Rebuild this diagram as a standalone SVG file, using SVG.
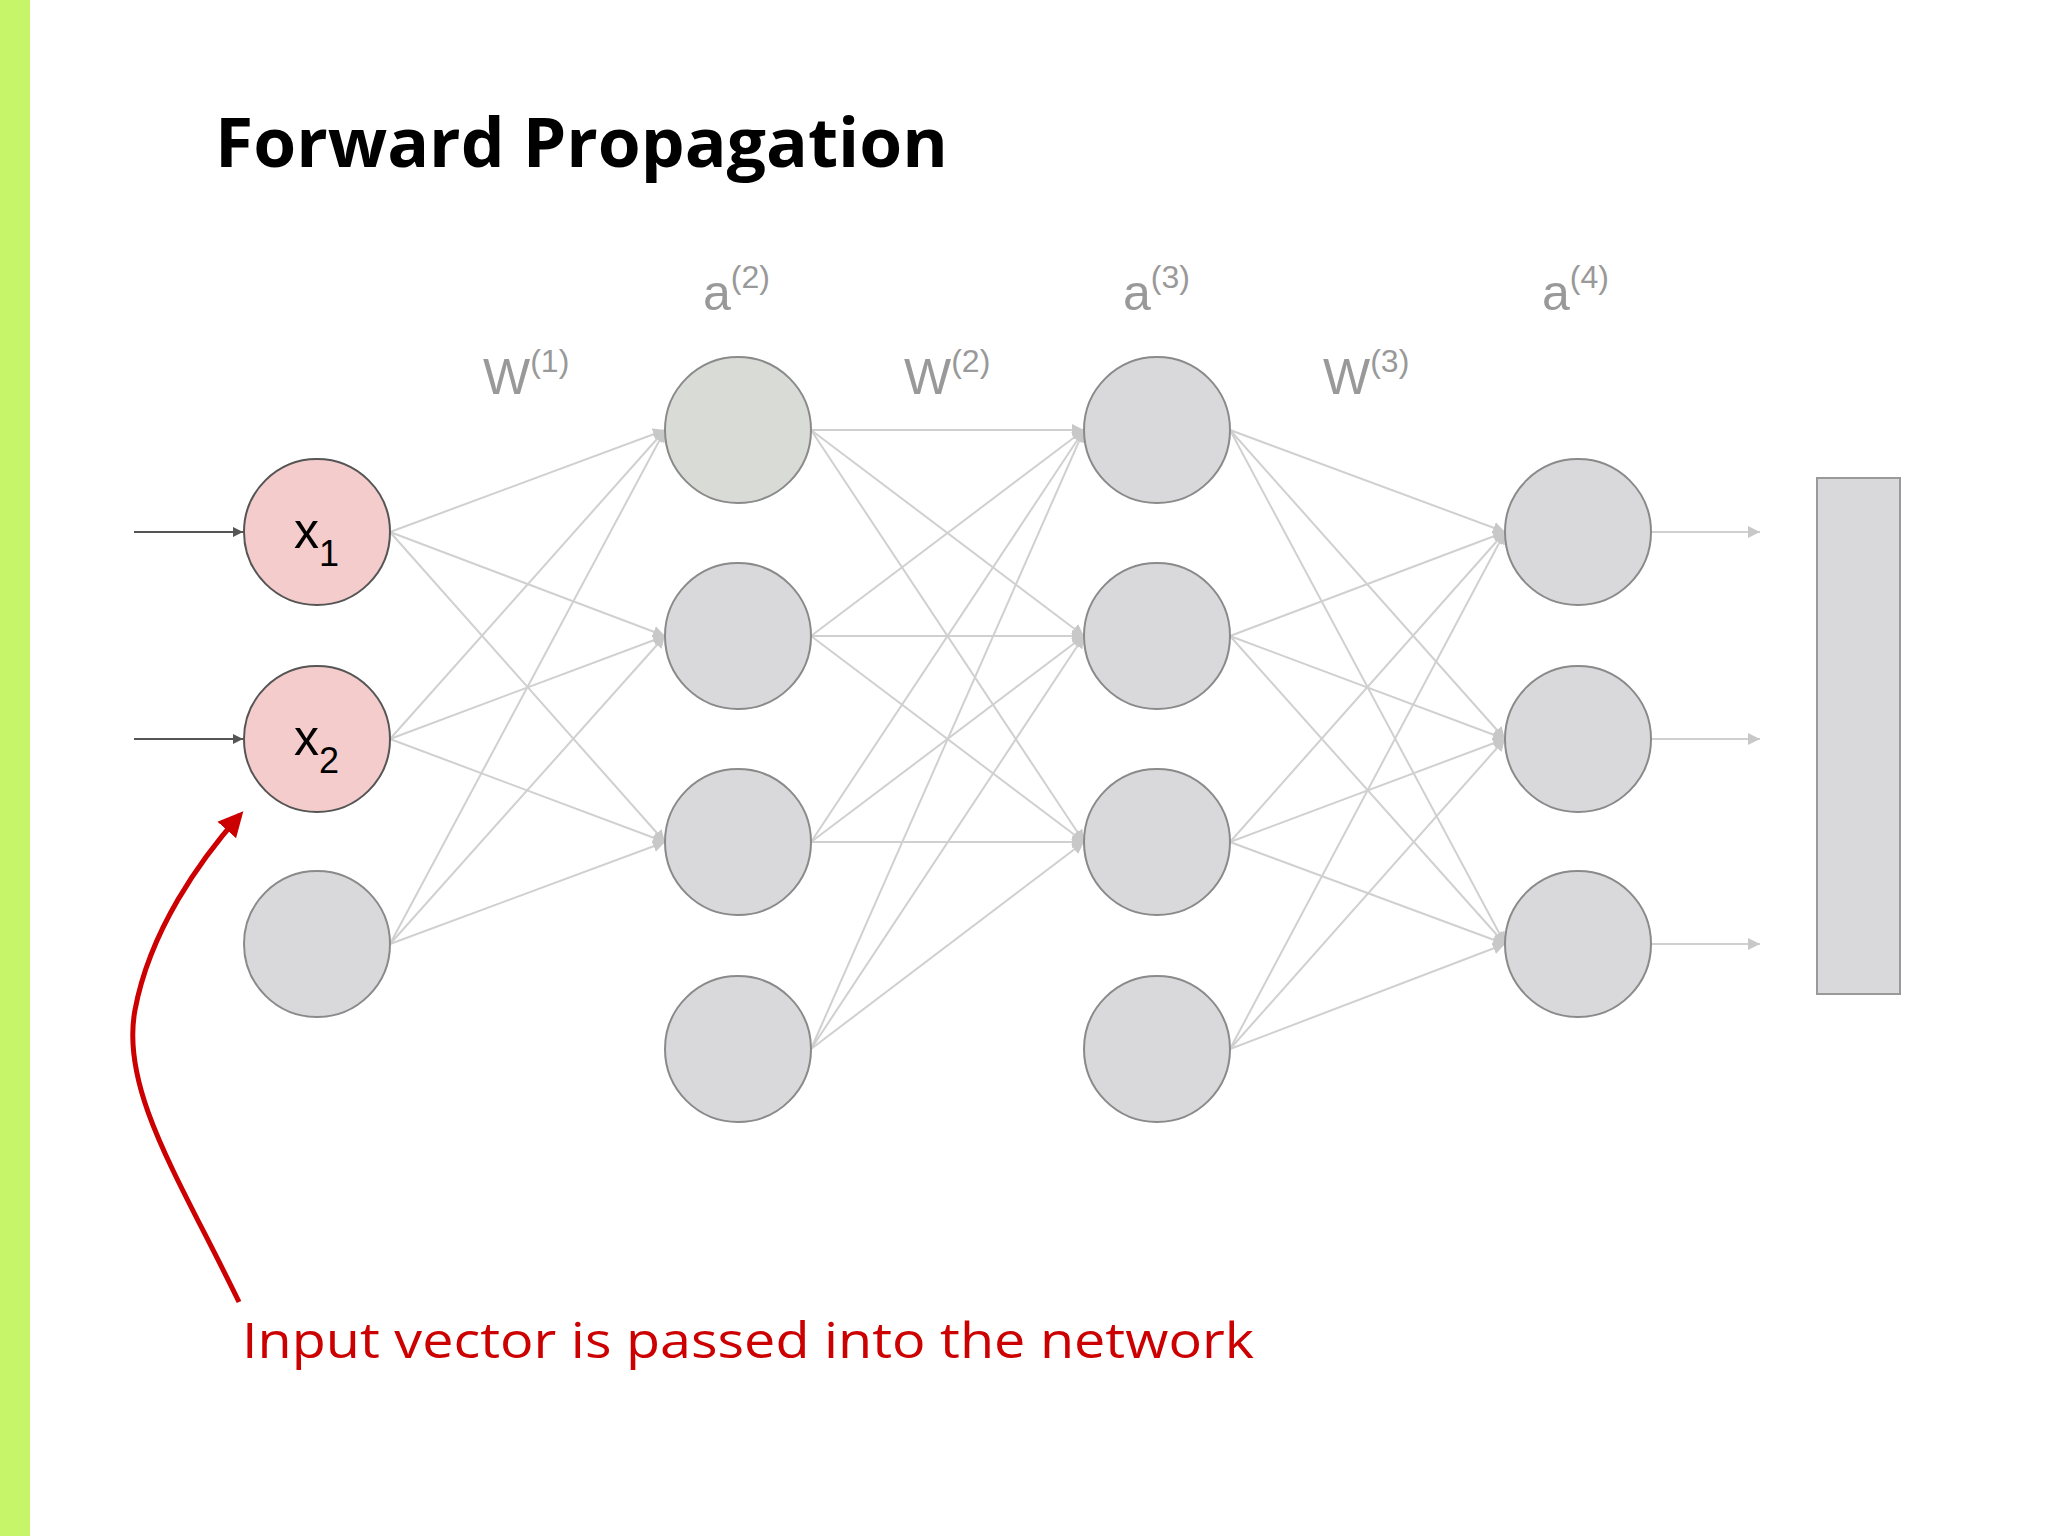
<svg xmlns="http://www.w3.org/2000/svg" width="2048" height="1536" viewBox="0 0 2048 1536">
<style>
.n{fill:#d9d8da;stroke:#8a8a8a;stroke-width:2}
.x{fill:#f4cccc;stroke:#555;stroke-width:2}
.e{stroke:#d0d0d0;stroke-width:2;fill:none;marker-end:url(#ag)}
.lbl{font-family:"Liberation Sans",Arial,sans-serif;fill:#999;font-size:50px}
.sup{font-size:32px}
</style>
<defs>
<marker id="ag" viewBox="0 0 10 10" refX="10" refY="5" markerWidth="6" markerHeight="6" orient="auto"><path d="M0,0L10,5L0,10z" fill="#c8c8c8"/></marker>
<marker id="ak" viewBox="0 0 10 10" refX="10" refY="5" markerWidth="5" markerHeight="5" orient="auto"><path d="M0,0L10,5L0,10z" fill="#555"/></marker>
<marker id="ar" viewBox="0 0 10 10" refX="8" refY="5" markerWidth="5" markerHeight="5" orient="auto"><path d="M0,0L10,5L0,10z" fill="#c00"/></marker>
</defs>
<rect width="2048" height="1536" fill="#fff"/>
<rect x="0" y="0" width="30" height="1536" fill="#c6f56a"/>
<text x="215" y="167" font-family="'Open Sans',Lato,sans-serif" font-weight="bold" font-size="68" textLength="733" lengthAdjust="spacingAndGlyphs">Forward Propagation</text>
<g id="connectors">
<path class="e" d="M390,532L665,430"/><path class="e" d="M390,532L665,636"/><path class="e" d="M390,532L665,842"/>
<path class="e" d="M390,739L665,430"/><path class="e" d="M390,739L665,636"/><path class="e" d="M390,739L665,842"/>
<path class="e" d="M390,944L665,430"/><path class="e" d="M390,944L665,636"/><path class="e" d="M390,944L665,842"/>
<path class="e" d="M811,430L1084,430"/><path class="e" d="M811,430L1084,636"/><path class="e" d="M811,430L1084,842"/>
<path class="e" d="M811,636L1084,430"/><path class="e" d="M811,636L1084,636"/><path class="e" d="M811,636L1084,842"/>
<path class="e" d="M811,842L1084,430"/><path class="e" d="M811,842L1084,636"/><path class="e" d="M811,842L1084,842"/>
<path class="e" d="M811,1049L1084,430"/><path class="e" d="M811,1049L1084,636"/><path class="e" d="M811,1049L1084,842"/>
<path class="e" d="M1230,430L1505,532"/><path class="e" d="M1230,430L1505,739"/><path class="e" d="M1230,430L1505,944"/>
<path class="e" d="M1230,636L1505,532"/><path class="e" d="M1230,636L1505,739"/><path class="e" d="M1230,636L1505,944"/>
<path class="e" d="M1230,842L1505,532"/><path class="e" d="M1230,842L1505,739"/><path class="e" d="M1230,842L1505,944"/>
<path class="e" d="M1230,1049L1505,532"/><path class="e" d="M1230,1049L1505,739"/><path class="e" d="M1230,1049L1505,944"/>
<path class="e" d="M1652,532L1760,532"/><path class="e" d="M1652,739L1760,739"/><path class="e" d="M1652,944L1760,944"/>
<path d="M134,532L243,532" stroke="#555" stroke-width="2" marker-end="url(#ak)"/>
<path d="M134,739L243,739" stroke="#555" stroke-width="2" marker-end="url(#ak)"/>
<path d="M239,1302C180,1180 120,1090 135,1010C150,930 200,860 240,815" stroke="#c00" stroke-width="5" fill="none" marker-end="url(#ar)"/>
</g>
<g id="x1"><circle class="x" cx="317" cy="532" r="73"/><text x="294" y="548" font-family="Liberation Sans,sans-serif" font-size="50">x<tspan font-size="36" dy="18">1</tspan></text></g>
<g id="x2"><circle class="x" cx="317" cy="739" r="73"/><text x="294" y="755" font-family="Liberation Sans,sans-serif" font-size="50">x<tspan font-size="36" dy="18">2</tspan></text></g>
<g id="b1"><circle class="n" cx="317" cy="944" r="73"/></g>
<g id="h2a"><circle class="n" cx="738" cy="430" r="73" style="fill:#d9dbd7"/></g>
<g id="h2b"><circle class="n" cx="738" cy="636" r="73"/></g>
<g id="h2c"><circle class="n" cx="738" cy="842" r="73"/></g>
<g id="h2d"><circle class="n" cx="738" cy="1049" r="73"/></g>
<g id="h3a"><circle class="n" cx="1157" cy="430" r="73"/></g>
<g id="h3b"><circle class="n" cx="1157" cy="636" r="73"/></g>
<g id="h3c"><circle class="n" cx="1157" cy="842" r="73"/></g>
<g id="h3d"><circle class="n" cx="1157" cy="1049" r="73"/></g>
<g id="o1"><circle class="n" cx="1578" cy="532" r="73"/></g>
<g id="o2"><circle class="n" cx="1578" cy="739" r="73"/></g>
<g id="o3"><circle class="n" cx="1578" cy="944" r="73"/></g>
<g id="out"><rect x="1817" y="478" width="83" height="516" fill="#d9d8da" stroke="#999" stroke-width="2"/></g>
<g id="labels">
<text class="lbl" x="703" y="310">a<tspan class="sup" dy="-22">(2)</tspan></text>
<text class="lbl" x="1123" y="310">a<tspan class="sup" dy="-22">(3)</tspan></text>
<text class="lbl" x="1542" y="310">a<tspan class="sup" dy="-22">(4)</tspan></text>
<text class="lbl" x="483" y="394">W<tspan class="sup" dy="-22">(1)</tspan></text>
<text class="lbl" x="904" y="394">W<tspan class="sup" dy="-22">(2)</tspan></text>
<text class="lbl" x="1323" y="394">W<tspan class="sup" dy="-22">(3)</tspan></text>
</g>
<text x="242" y="1358" font-family="'Open Sans',Lato,sans-serif" font-size="50" fill="#c00" textLength="1012" lengthAdjust="spacingAndGlyphs">Input vector is passed into the network</text>
</svg>
